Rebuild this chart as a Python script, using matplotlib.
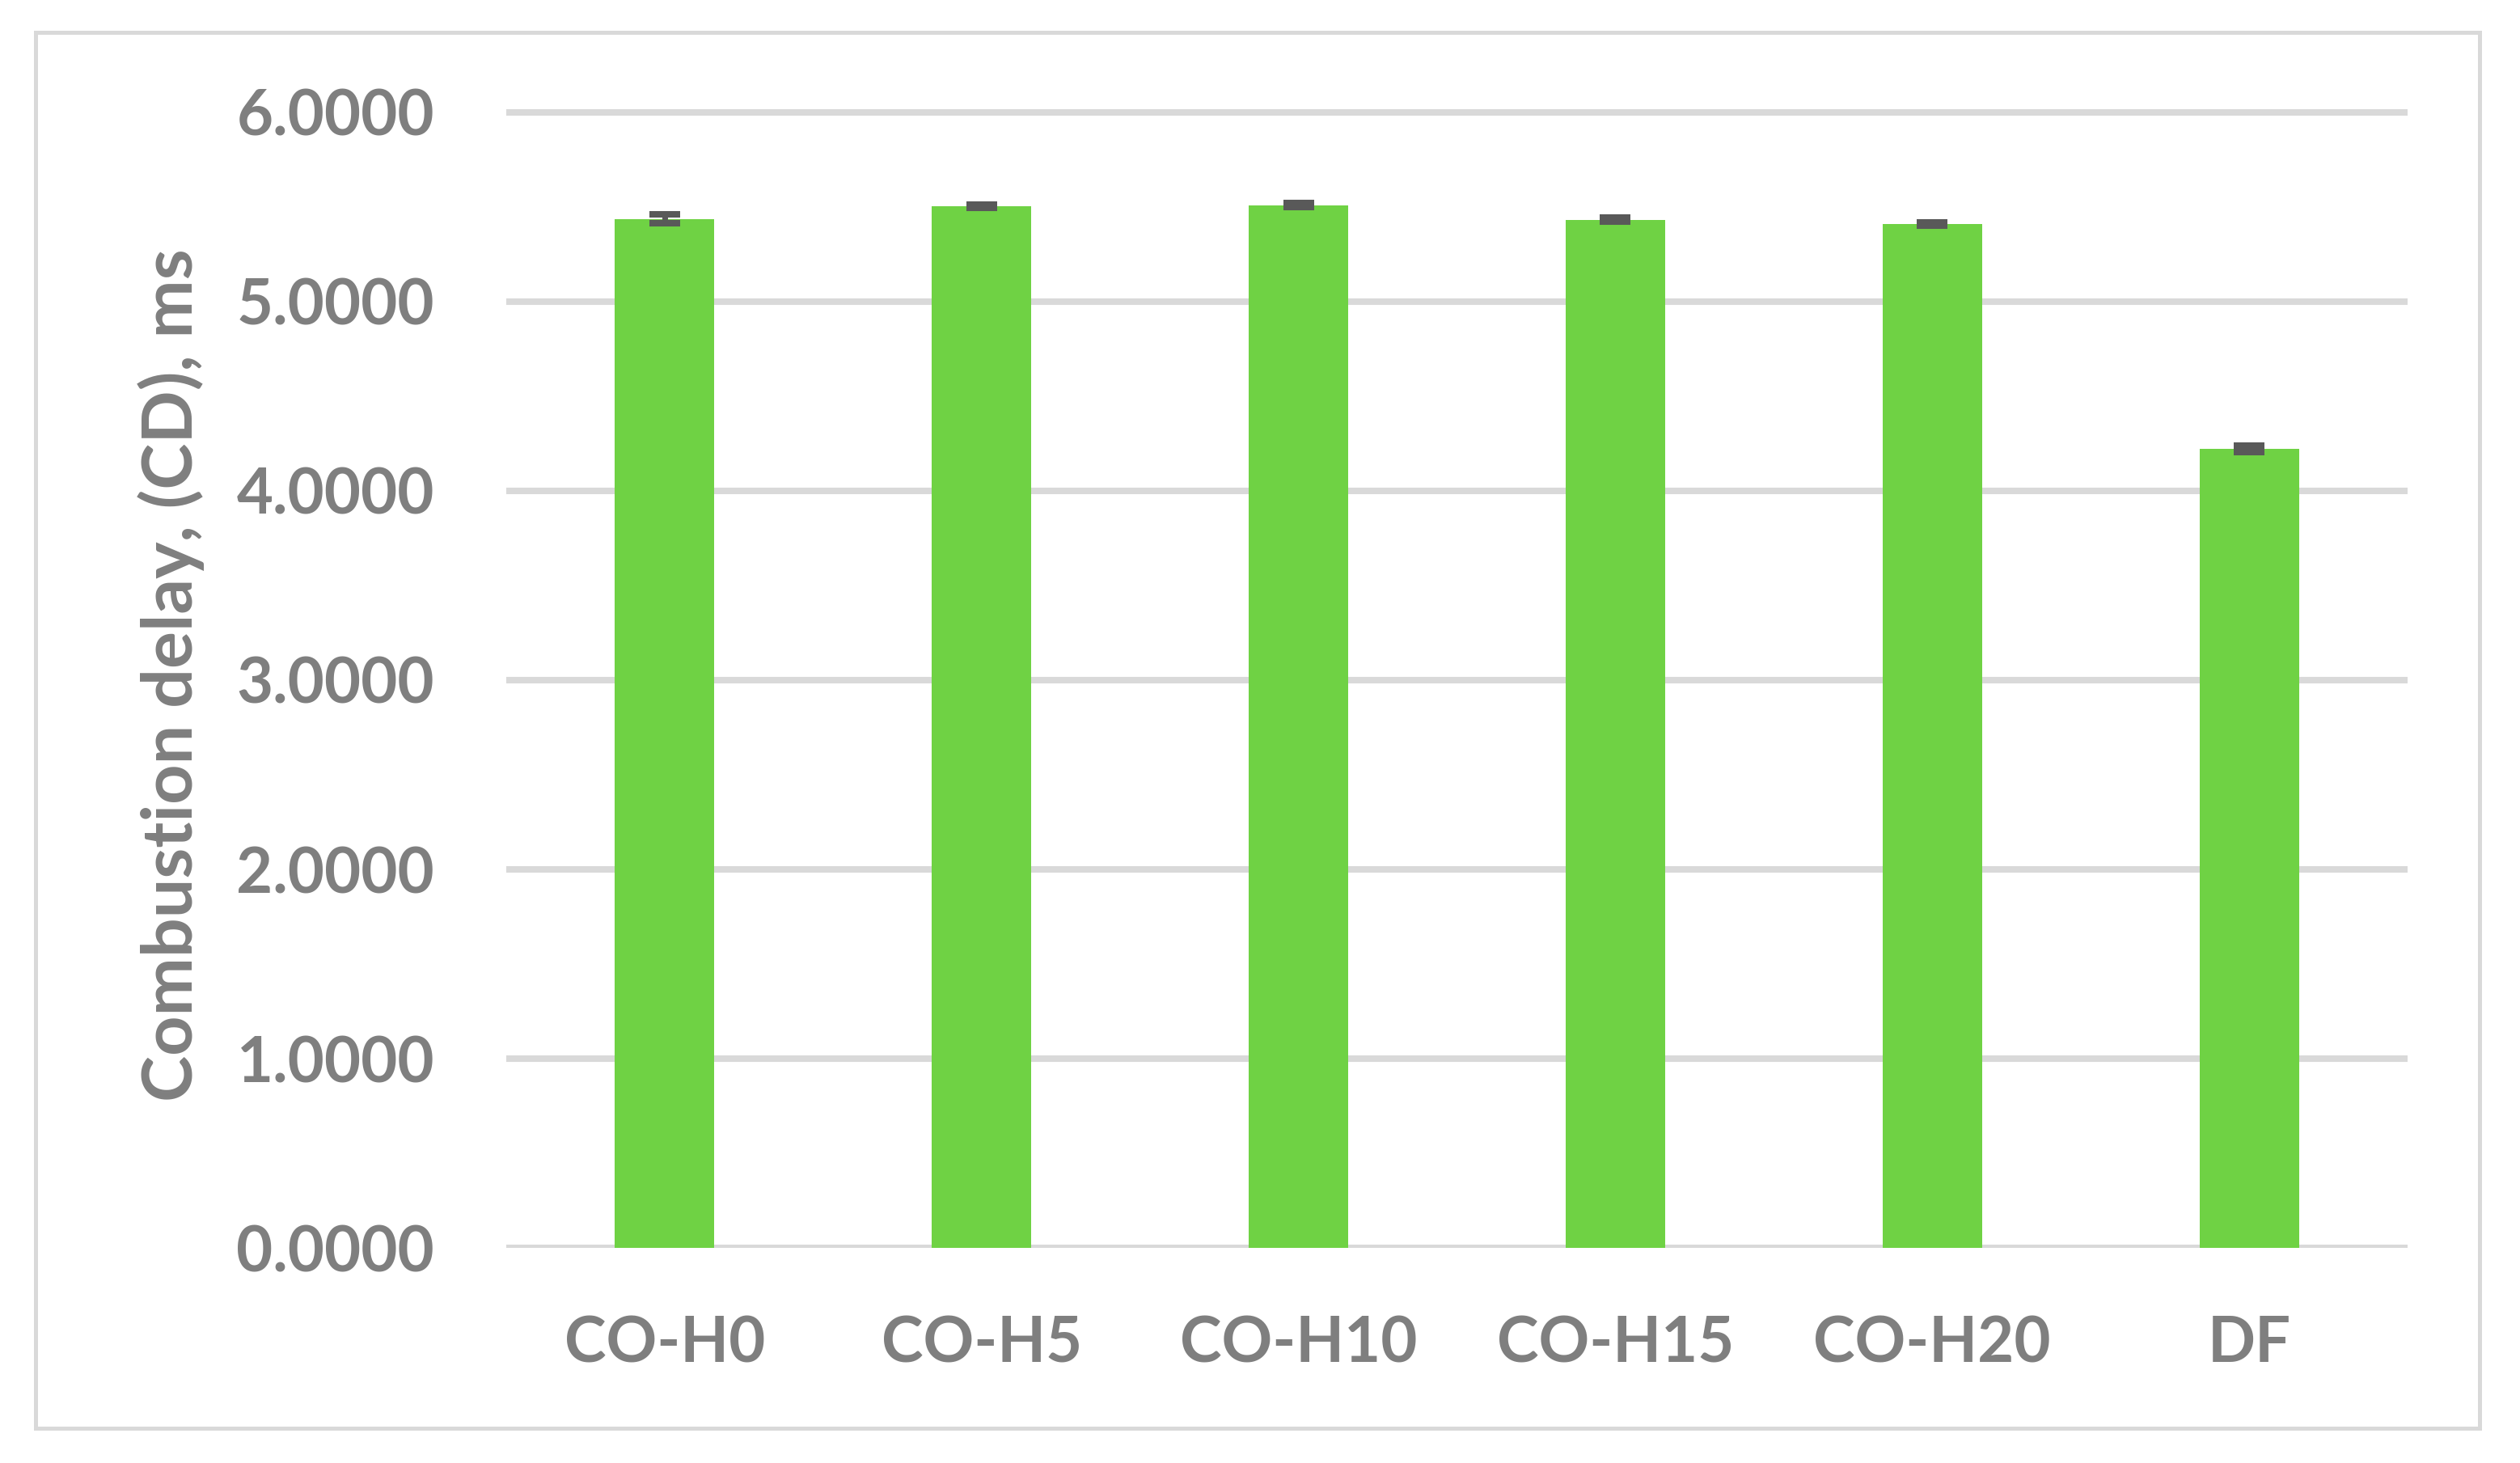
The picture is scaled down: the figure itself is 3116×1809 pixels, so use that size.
import matplotlib.pyplot as plt
import matplotlib.patches as patches

# Data
fuels = ["CO-H0", "CO-H5", "CO-H10", "CO-H15", "CO-H20", "DF"]
delay = [5.436, 5.504, 5.509, 5.432, 5.410, 4.222]
delay_err = [0.024, 0.008, 0.010, 0.010, 0.010, 0.016]
yticks = [0, 1, 2, 3, 4, 5, 6]

grey = "#7F7F7F"
plt.rcParams['font.family'] = ['Lato', 'DejaVu Sans']
plt.rcParams['font.weight'] = 'bold'

fig = plt.figure(figsize=(15.58, 9.045), dpi=200)
ax = fig.add_axes([0.2009, 0.147, 0.7545, 0.7827])

x = range(len(fuels))
ax.bar(x, delay, width=0.314, color="#6FD244", zorder=3)
ax.errorbar(x, delay, yerr=delay_err, fmt="none", ecolor="#595959",
            elinewidth=2.5, capsize=7, capthick=2.9, zorder=4)

ax.set_xlim(-0.5, len(fuels) - 0.5)
ax.set_ylim(0, 6.05)
ax.set_yticks(yticks)
ax.set_yticklabels([f"{v:.4f}" for v in yticks])
ax.set_xticks(list(x))
ax.set_xticklabels(fuels)
ax.tick_params(axis="both", length=0, labelsize=28, labelcolor=grey)
ax.tick_params(axis="y", pad=32)
ax.tick_params(axis="x", pad=30)
ax.yaxis.grid(True, color="#D9D9D9", linewidth=2.9, zorder=0)
for s in ax.spines.values():
    s.set_visible(False)

ax.set_ylabel("Combustion delay, (CD), ms", fontsize=31, color=grey,
              fontweight="bold", labelpad=14)

# outer chart border
fig.patches.append(patches.Rectangle((0.0141, 0.0238), 0.9699, 0.9542,
                                     transform=fig.transFigure, fill=False,
                                     edgecolor="#D9D9D9", linewidth=1.8))

fig.savefig("out.png", dpi=200)
